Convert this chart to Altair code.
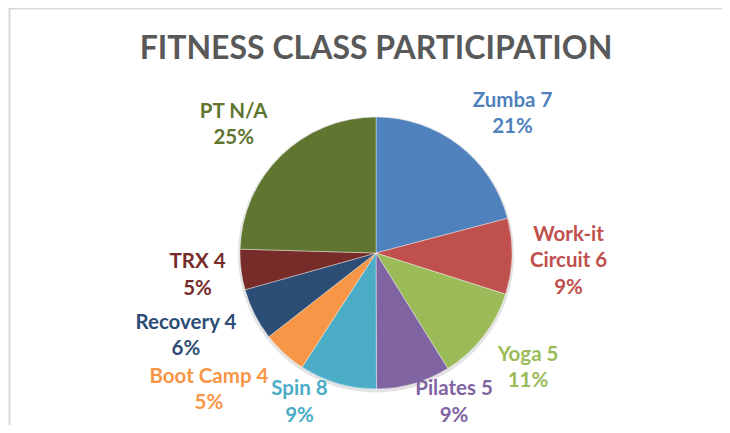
import altair as alt
import pandas as pd

# ---- data ----
classes = ["Zumba", "Work-it Circuit", "Yoga", "Pilates", "Spin",
           "Boot Camp", "Recovery", "TRX", "PT"]
counts = ["7", "6", "5", "5", "8", "4", "4", "4", "N/A"]
shares = [20.9, 9.0, 11.25, 8.8, 9.2, 5.3, 6.2, 4.8, 24.55]   # % of pie
pct_labels = ["21%", "9%", "11%", "9%", "9%", "5%", "6%", "5%", "25%"]
colors = ["#4F81BD", "#C0504D", "#9BBB59", "#8064A2", "#4BACC6",
          "#F79646", "#2C4D75", "#772C2A", "#5F7530"]

# ---- label layout (Excel "best fit" placement) ----
label_r = [194.6, 192.6, 189.6, 170.5, 170.3, 212.7, 206.3, 179.8, 192.2]
label_dx = [17.7, 0, 2.4, 31.0, -28.5, -23.4, -6, 0, -8.3]
label_dy = [13.6, 1.7, -2.9, -16.0, -15.4, -21.5, -11.5, -1, 8.1]
LH = 26.5

def label_text(name, count, pct):
    if name == "Work-it Circuit":
        return f"Work-it\nCircuit {count}\n{pct}"
    return f"{name} {count}\n{pct}"

texts = [label_text(n, c, p) for n, c, p in zip(classes, counts, pct_labels)]
# centre the multi-line block on its anchor
block_dy = [dy - (t.count("\n")) * LH / 2 + 1.5 for dy, t in zip(label_dy, texts)]

df = pd.DataFrame({
    "cls": classes,
    "share": shares,
    "order": list(range(len(classes))),
    "label": texts,
    "lr": label_r,
    "ldx": label_dx,
    "ldy": block_dy,
})

W, H = 714, 417
CX, CY, R = 368, 245, 136

color = alt.Color("cls:N", scale=alt.Scale(domain=classes, range=colors), legend=None)

base = alt.Chart(df)

shadow = alt.Chart(alt.Data(values=[{"a": 1}])).mark_arc(
    radius=R + 2, theta=0, theta2=6.2832, color="#d0d0d0", opacity=0.6
).encode(x=alt.value(CX), y=alt.value(CY + 1.5))

pie = base.mark_arc(radius=R, stroke="white", strokeWidth=0.4).encode(
    theta=alt.Theta("share:Q", stack=True), order=alt.Order("order:Q"), color=color,
    x=alt.value(CX), y=alt.value(CY),
)

labels = base.transform_joinaggregate(
    total="sum(share)"
).transform_window(
    cum="sum(share)", sort=[alt.SortField("order")], frame=[None, 0]
).transform_calculate(
    mid="2 * PI * (datum.cum - datum.share / 2) / datum.total"
).mark_text(
    font="Lato", fontWeight="bold", fontSize=20.5, lineBreak="\n",
    lineHeight=LH, align="center", baseline="middle"
).encode(
    theta=alt.Theta("mid:Q", scale=None, stack=False),
    radius=alt.Radius("lr:Q", scale=None),
    color=color,
    x=alt.value(CX), y=alt.value(CY),
    xOffset=alt.XOffset("ldx:Q", scale=None),
    yOffset=alt.YOffset("ldy:Q", scale=None),
    text="label:N",
)

title = alt.Chart(alt.Data(values=[{"t": "FITNESS CLASS PARTICIPATION"}])).mark_text(
    font="Lato", fontWeight="bold", fontSize=32, color="#595959",
    align="center", baseline="alphabetic"
).encode(x=alt.value(CX), y=alt.value(51), text="t:N")

frame_left = alt.Chart(alt.Data(values=[{"a": 1}])).mark_rule(
    color="#d9d9d9", strokeWidth=2
).encode(x=alt.value(1.5), y=alt.value(0), y2=alt.value(H))

frame_top = alt.Chart(alt.Data(values=[{"a": 1}])).mark_rule(
    color="#d9d9d9", strokeWidth=1.5
).encode(x=alt.value(0.5), x2=alt.value(W), y=alt.value(0.75))

chart = alt.layer(shadow, pie, labels, title, frame_left, frame_top).properties(
    width=W, height=H, autosize=alt.AutoSizeParams(type="none"), padding=0,
    background="white"
).configure_view(stroke=None)

chart.save("out.html", embed_options={"renderer": "svg", "actions": False})
